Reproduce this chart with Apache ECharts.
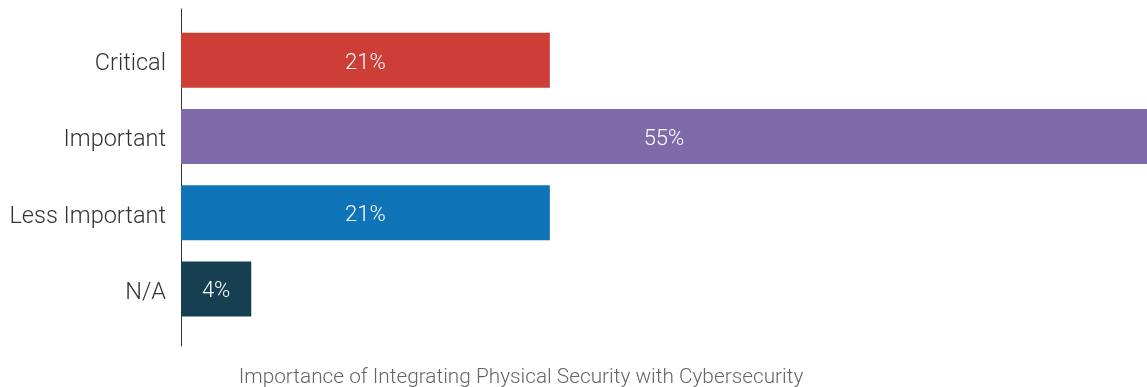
<!DOCTYPE html>
<html>
<head>
<meta charset="utf-8">
<script src="https://cdn.jsdelivr.net/npm/echarts@6/dist/echarts.min.js"></script>
<style>
  html, body { margin: 0; padding: 0; background: #fff; }
  #main { width: 1147px; height: 387px; }
</style>
</head>
<body>
<div id="main"></div>
<script>
var categories = ['Critical', 'Important', 'Less Important', 'N/A'];
var values = [21, 55, 21, 4];
var barColors = ['#cd3e36', '#7e6aa8', '#0f73b8', '#173f52'];
var title = 'Importance of Integrating Physical Security with Cybersecurity';

var chart = echarts.init(document.getElementById('main'));

var fontFam = "'Helvetica Neue', Roboto, 'Liberation Sans', sans-serif";

var option = {
    animation: false,
    title: {
        text: title,
        left: 516,
        textAlign: 'center',
        top: 362,
        textStyle: {
            fontSize: 20.8,
            fontWeight: 300,
            color: '#666',
            fontFamily: fontFam
        }
    },
    grid: [
        { left: 181, right: 0, top: 22, height: 305 },
        // just for the taller vertical axis line
        { left: 181, right: 0, top: 9, height: 337 }
    ],
    xAxis: [
        { type: 'value', min: 0, max: 55, show: false, gridIndex: 0 },
        { type: 'value', min: 0, max: 55, show: false, gridIndex: 1 }
    ],
    yAxis: [
        {
            type: 'category',
            gridIndex: 0,
            data: categories,
            inverse: true,
            axisLine: { show: false },
            axisTick: { show: false },
            axisLabel: {
                margin: 15,
                formatter: '{v|{value}}',
                rich: {
                    v: {
                        fontSize: 23.5,
                        fontWeight: 300,
                        color: '#333',
                        fontFamily: fontFam,
                        padding: [8, 0, 0, 0]
                    }
                }
            }
        },
        {
            type: 'category',
            gridIndex: 1,
            data: categories,
            axisLine: { show: true, lineStyle: { color: '#333', width: 1 } },
            axisTick: { show: false },
            axisLabel: { show: false }
        }
    ],
    series: [
        {
            type: 'bar',
            xAxisIndex: 0,
            yAxisIndex: 0,
            barWidth: 55,
            data: values.map(function (v, i) {
                return { value: v, itemStyle: { color: barColors[i] } };
            }),
            label: {
                show: true,
                position: 'inside',
                offset: [0, 3],
                formatter: '{c}%',
                color: '#fff',
                fontSize: 22,
                fontWeight: 300,
                fontFamily: fontFam
            }
        }
    ]
};

chart.setOption(option);
</script>
</body>
</html>
